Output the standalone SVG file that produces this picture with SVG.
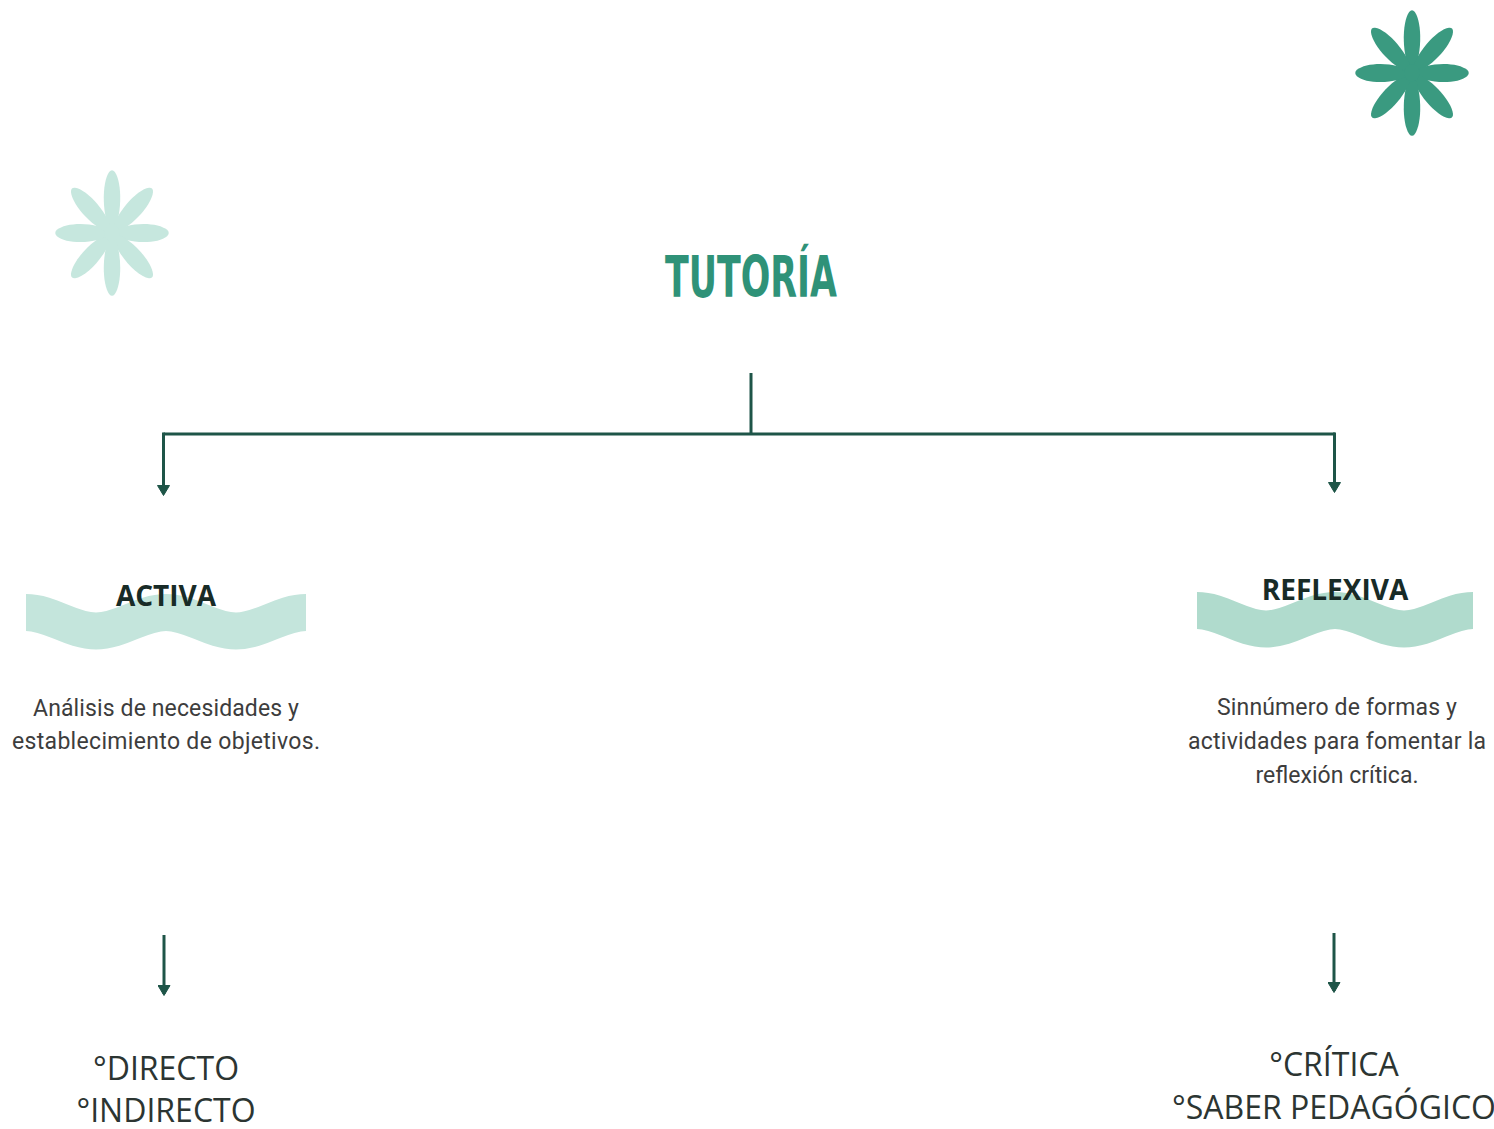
<svg xmlns="http://www.w3.org/2000/svg" width="1494" height="1129" viewBox="0 0 1494 1129">
<style>
.title{font-family:"DejaVu Sans Condensed","DejaVu Sans","Liberation Sans",sans-serif;font-weight:bold;font-stretch:condensed;font-size:57px;fill:#2f9278;text-anchor:middle}
.head{font-family:"Open Sans","Noto Sans","Liberation Sans",sans-serif;font-weight:bold;font-size:28px;fill:#182b27;text-anchor:middle}
.desc{font-family:Roboto,"Noto Sans","Liberation Sans",sans-serif;font-size:23px;fill:#3d3d3d;text-anchor:middle}
.item{font-family:"Open Sans","Noto Sans","Liberation Sans",sans-serif;font-weight:400;font-size:32px;fill:#2c3532;text-anchor:middle}
.wave{fill:none;stroke-width:37;stroke-linecap:butt}
.conn{fill:none;stroke:#1e5548;stroke-width:3}
</style>
<defs>
<path id="petal" d="M0,0 C11,-14 11,-48 3,-58 Q0,-61.5 -3,-58 C-11,-48 -11,-14 0,0 Z"/>
<g id="star">
<use href="#petal"/>
<use href="#petal" transform="rotate(45)"/>
<use href="#petal" transform="rotate(90)"/>
<use href="#petal" transform="rotate(135)"/>
<use href="#petal" transform="rotate(180)"/>
<use href="#petal" transform="rotate(225)"/>
<use href="#petal" transform="rotate(270)"/>
<use href="#petal" transform="rotate(315)"/>
<circle r="8"/>
</g>
<marker id="arr" viewBox="0 0 11 13" refX="9" refY="6.5" markerWidth="11" markerHeight="13" markerUnits="userSpaceOnUse" orient="auto">
<path d="M0.5,0.5 L10.5,6.5 L0.5,12.5 Z" fill="#1e5548" stroke="#1e5548" stroke-width="1" stroke-linejoin="round"/>
</marker>
</defs>
<rect width="1494" height="1129" fill="#ffffff"/>

<g id="decor">
<use href="#star" fill="#c6e7de" transform="translate(112,233) scale(0.95,1.05)"/>
<use href="#star" fill="#3a9a80" transform="translate(1412,73) scale(0.95,1.05)"/>
</g>

<g id="connectors">
<path class="conn" d="M751,373 V434"/>
<path class="conn" d="M163.5,434 H1335"/>
<path class="conn" d="M163.5,432.5 V494" marker-end="url(#arr)"/>
<path class="conn" d="M1334.5,432.5 V491" marker-end="url(#arr)"/>
<path class="conn" d="M164,935 V994" marker-end="url(#arr)"/>
<path class="conn" d="M1334,933 V991" marker-end="url(#arr)"/>
</g>

<g id="node-tutoria">
<text class="title" x="751" y="297" textLength="172" lengthAdjust="spacingAndGlyphs">TUTORÍA</text>
</g>

<g id="node-activa">
<path class="wave" stroke="#c4e5dc" d="M26,612.5 C51.2,612.5 70.8,631 96,631 C121.2,631 140.8,612.5 166,612.5 C191.2,612.5 210.8,631 236,631 C261.2,631 280.8,612.5 306,612.5"/>
<text class="head" x="166" y="606">ACTIVA</text>
<text class="desc" x="166" y="716" textLength="266">Análisis de necesidades y</text>
<text class="desc" x="166" y="749" textLength="308">establecimiento de objetivos.</text>
</g>

<g id="node-reflexiva">
<path class="wave" stroke="#b0dbcd" d="M1197,610.5 C1221.84,610.5 1241.16,629 1266,629 C1290.84,629 1310.16,610.5 1335,610.5 C1359.84,610.5 1379.16,629 1404,629 C1428.84,629 1448.16,610.5 1473,610.5"/>
<text class="head" x="1335" y="600">REFLEXIVA</text>
<text class="desc" x="1337" y="715" textLength="240">Sinnúmero de formas y</text>
<text class="desc" x="1337" y="749" textLength="298">actividades para fomentar la</text>
<text class="desc" x="1337" y="783" textLength="163">reflexión crítica.</text>
</g>

<g id="node-activa-items">
<text class="item" x="166" y="1080">°DIRECTO</text>
<text class="item" x="166" y="1122">°INDIRECTO</text>
</g>

<g id="node-reflexiva-items">
<text class="item" x="1334" y="1076">°CRÍTICA</text>
<text class="item" x="1334" y="1119">°SABER PEDAGÓGICO</text>
</g>
</svg>
